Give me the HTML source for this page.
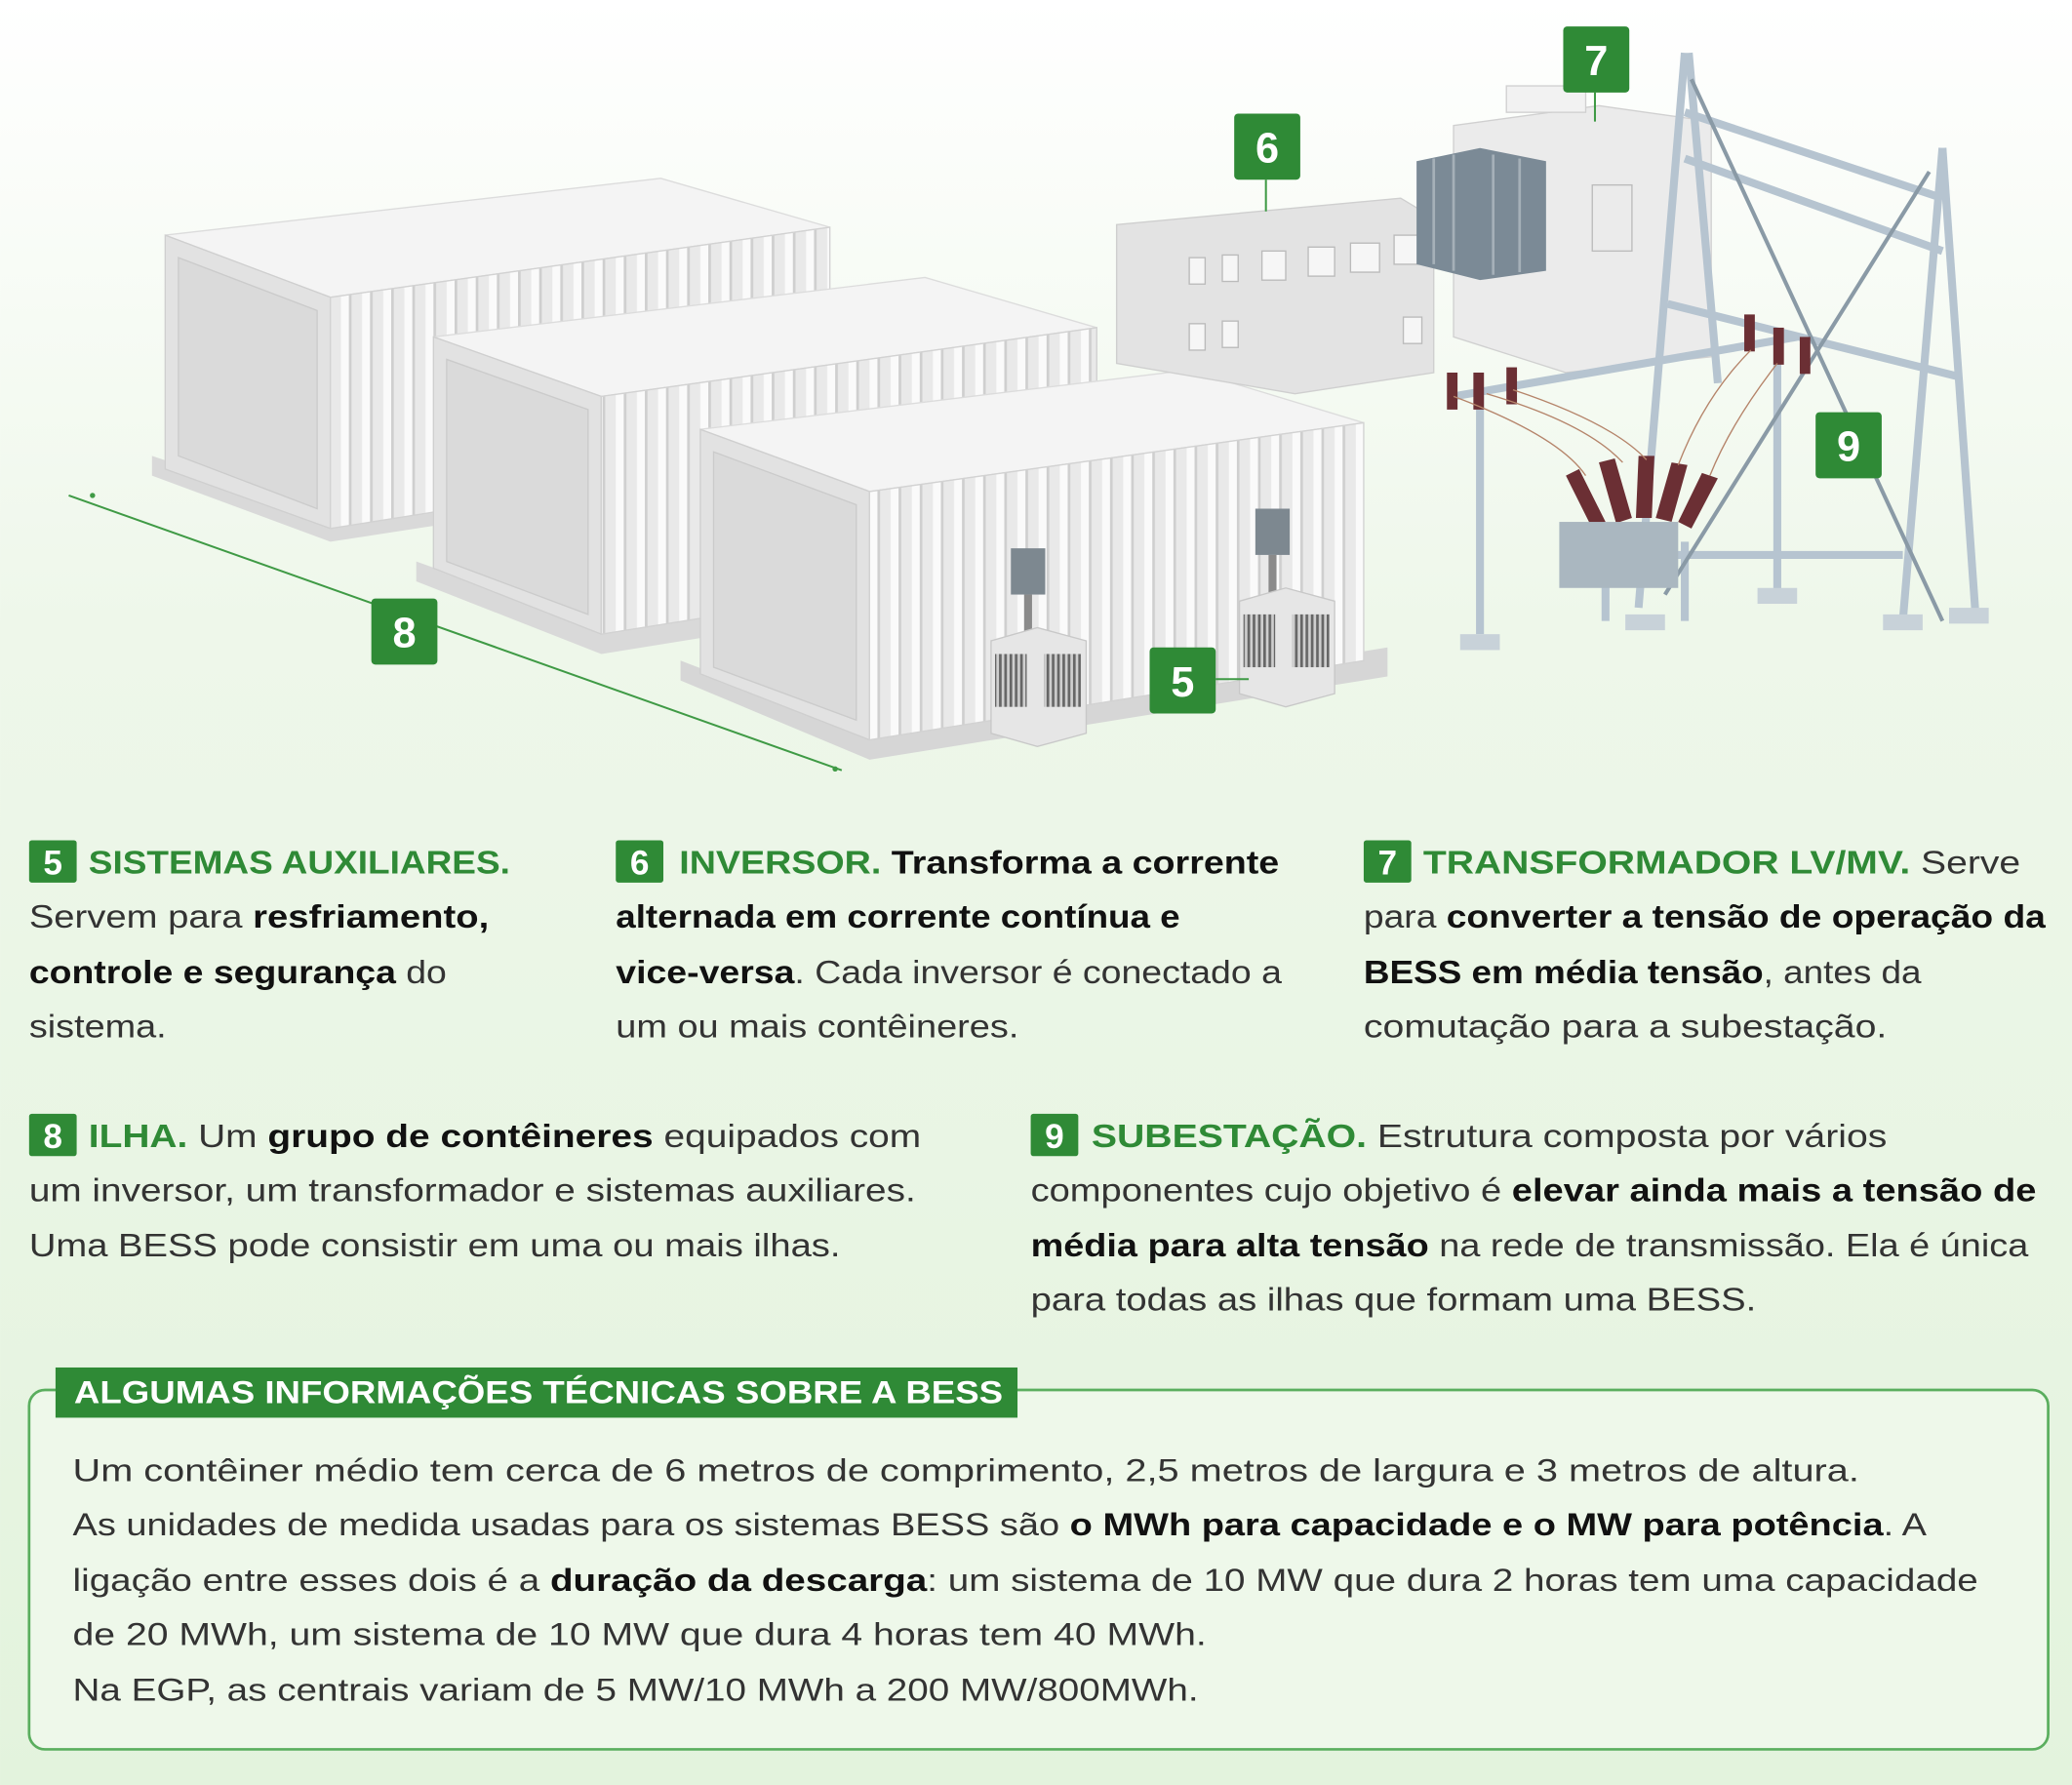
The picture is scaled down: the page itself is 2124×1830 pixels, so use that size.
<!DOCTYPE html>
<html><head><meta charset="utf-8"><style>
html,body{margin:0;padding:0;width:2124px;height:1830px;overflow:hidden}
svg{display:block}
text{font-family:"Liberation Sans",sans-serif}
</style></head><body>
<svg width="2124" height="1830" viewBox="0 0 1568 1351" xmlns="http://www.w3.org/2000/svg">
<defs>
<linearGradient id="bg" x1="0" y1="0" x2="0" y2="1">
<stop offset="0" stop-color="#ffffff"/><stop offset="0.35" stop-color="#eef7ea"/><stop offset="1" stop-color="#e3f3dd"/>
</linearGradient>
<pattern id="rib" width="16" height="10" patternUnits="userSpaceOnUse">
<rect width="16" height="10" fill="#e9e9e9"/><rect x="2" width="6" height="10" fill="#fafafa"/><rect x="8" width="2" height="10" fill="#cfcfcf"/>
</pattern>
<pattern id="grill" width="4" height="6" patternUnits="userSpaceOnUse">
<rect width="4" height="6" fill="#cfcfcf"/><rect width="2" height="6" fill="#666"/>
</pattern>
</defs>
<rect width="1568" height="1351" fill="url(#bg)"/>

<polygon points="115,360 250,410 640,350 640,330 250,390 115,345" fill="#d9d9d9"/>
<polygon points="125,178 500,135 628,172 250,225" fill="#f4f4f4" stroke="#dcdcdc"/>
<polygon points="125,178 250,225 250,400 125,355" fill="#e2e2e2" stroke="#cfcfcf"/>
<polygon points="135,195 240,235 240,385 135,345" fill="#dadada" stroke="#cbcbcb"/>
<polygon points="250,225 628,172 628,340 250,400" fill="url(#rib)" stroke="#d2d2d2"/>
<polygon points="315,440 455,495 845,432 845,410 455,475 315,425" fill="#d9d9d9"/>
<polygon points="328,255 700,210 830,248 455,300" fill="#f4f4f4" stroke="#dcdcdc"/>
<polygon points="328,255 455,300 455,480 328,430" fill="#e2e2e2" stroke="#cfcfcf"/>
<polygon points="338,272 445,310 445,465 338,425" fill="#dadada" stroke="#cbcbcb"/>
<polygon points="455,300 830,248 830,420 455,480" fill="url(#rib)" stroke="#d2d2d2"/>
<polygon points="515,515 658,575 1050,512 1050,490 658,555 515,500" fill="#d6d6d6"/>
<polygon points="530,325 900,280 1032,320 658,372" fill="#f4f4f4" stroke="#dcdcdc"/>
<polygon points="530,325 658,372 658,560 530,510" fill="#e2e2e2" stroke="#cfcfcf"/>
<polygon points="540,342 648,382 648,545 540,505" fill="#dadada" stroke="#cbcbcb"/>
<polygon points="658,372 1032,320 1032,500 658,560" fill="url(#rib)" stroke="#d2d2d2"/>

<g>
<rect x="765" y="415" width="26" height="35" fill="#7d8890"/><rect x="775" y="450" width="6" height="30" fill="#8a8a8a"/>
<polygon points="750,485 785,475 822,485 822,555 785,565 750,555" fill="#e6e6e6" stroke="#c8c8c8"/>
<rect x="753" y="495" width="24" height="40" fill="url(#grill)"/><rect x="790" y="495" width="28" height="40" fill="url(#grill)"/>
<rect x="950" y="385" width="26" height="35" fill="#7d8890"/><rect x="960" y="420" width="6" height="30" fill="#8a8a8a"/>
<polygon points="938,455 973,445 1010,455 1010,525 973,535 938,525" fill="#e6e6e6" stroke="#c8c8c8"/>
<rect x="941" y="465" width="24" height="40" fill="url(#grill)"/><rect x="978" y="465" width="28" height="40" fill="url(#grill)"/>
</g>

<polygon points="845,170 1060,150 1085,165 1085,282 980,298 845,275" fill="#e3e3e3" stroke="#cfcfcf"/>
<g fill="#f6f6f6" stroke="#bbb">
<rect x="900" y="195" width="12" height="20"/><rect x="925" y="193" width="12" height="20"/><rect x="955" y="190" width="18" height="22"/><rect x="990" y="187" width="20" height="22"/><rect x="1022" y="184" width="22" height="22"/><rect x="1055" y="178" width="20" height="22"/>
<rect x="900" y="245" width="12" height="20"/><rect x="925" y="243" width="12" height="20"/><rect x="1062" y="240" width="14" height="20"/>
</g>
<polygon points="1100,95 1210,80 1295,92 1295,270 1185,282 1100,255" fill="#ebebeb" stroke="#d0d0d0"/>
<rect x="1140" y="65" width="60" height="20" fill="#f2f2f2" stroke="#d0d0d0"/>
<polygon points="1072,122 1120,112 1170,122 1170,205 1120,212 1072,200" fill="#7b8a96"/>
<g stroke="#a5b0b8" stroke-width="2"><line x1="1085" y1="120" x2="1085" y2="200"/><line x1="1100" y1="117" x2="1100" y2="205"/><line x1="1130" y1="117" x2="1130" y2="208"/><line x1="1150" y1="120" x2="1150" y2="206"/></g>
<rect x="1205" y="140" width="30" height="50" fill="none" stroke="#bbb"/>

<g stroke="#b6c4d0" stroke-width="6" fill="none" stroke-linejoin="round">
<polyline points="1275,40 1240,460"/><polyline points="1278,40 1300,290"/>
<polyline points="1470,112 1440,470"/><polyline points="1470,112 1495,465"/>
<line x1="1275" y1="85" x2="1470" y2="150"/><line x1="1275" y1="120" x2="1470" y2="190"/>
<line x1="1262" y1="230" x2="1482" y2="285"/>
<line x1="1245" y1="420" x2="1440" y2="420"/>
<line x1="1100" y1="300" x2="1360" y2="255"/><line x1="1120" y1="300" x2="1120" y2="480"/><line x1="1345" y1="260" x2="1345" y2="450"/>
<line x1="1215" y1="420" x2="1215" y2="470"/><line x1="1275" y1="410" x2="1275" y2="470"/>
</g>
<g stroke="#8a9aa6" stroke-width="3"><line x1="1280" y1="60" x2="1470" y2="470"/><line x1="1460" y1="130" x2="1260" y2="450"/></g>
<g fill="#6b2f34">
<rect x="1095" y="282" width="8" height="28"/><rect x="1115" y="282" width="8" height="28"/><rect x="1140" y="278" width="8" height="28"/><rect x="1320" y="238" width="8" height="28"/><rect x="1342" y="248" width="8" height="28"/><rect x="1362" y="255" width="8" height="28"/>
<polygon points="1185,360 1195,355 1215,395 1205,400"/><polygon points="1210,350 1222,347 1235,392 1223,396"/><polygon points="1240,345 1252,345 1250,392 1238,392"/><polygon points="1265,350 1277,352 1265,395 1253,392"/><polygon points="1288,358 1300,362 1280,400 1270,395"/>
</g>
<g stroke="#b5846a" stroke-width="1" fill="none"><path d="M1100,300 Q1180,330 1200,360"/><path d="M1125,298 Q1200,320 1228,350"/><path d="M1145,295 Q1220,320 1246,348"/><path d="M1325,265 Q1290,300 1270,352"/><path d="M1345,275 Q1310,320 1294,360"/></g>
<rect x="1180" y="395" width="90" height="50" fill="#aab7c0"/>
<g fill="#c8d2d9"><rect x="1105" y="480" width="30" height="12"/><rect x="1230" y="465" width="30" height="12"/><rect x="1330" y="445" width="30" height="12"/><rect x="1425" y="465" width="30" height="12"/><rect x="1475" y="460" width="30" height="12"/></g>

<line x1="52" y1="375" x2="637" y2="583" stroke="#3f9a45" stroke-width="1.5"/>
<circle cx="70" cy="375" r="2" fill="#3f9a45"/><circle cx="632" cy="582" r="2" fill="#3f9a45"/>
<line x1="958" y1="136" x2="958" y2="160" stroke="#3f9a45" stroke-width="1.5"/>
<line x1="1207" y1="70" x2="1207" y2="92" stroke="#3f9a45" stroke-width="1.5"/>
<line x1="920" y1="514" x2="945" y2="514" stroke="#3f9a45" stroke-width="1.5"/>

<g font-weight="bold" font-size="32" fill="#fff" text-anchor="middle">
<rect x="1183" y="20" width="50" height="50" rx="3" fill="#2f8a36"/><text x="1208" y="57">7</text>
<rect x="934" y="86" width="50" height="50" rx="3" fill="#2f8a36"/><text x="959" y="123">6</text>
<rect x="1374" y="312" width="50" height="50" rx="3" fill="#2f8a36"/><text x="1399" y="349">9</text>
<rect x="281" y="453" width="50" height="50" rx="3" fill="#2f8a36"/><text x="306" y="490">8</text>
<rect x="870" y="490" width="50" height="50" rx="3" fill="#2f8a36"/><text x="895" y="527">5</text>
</g>

<g fill="#2f8a36">
<rect x="22" y="636" width="36" height="32" rx="2"/><rect x="466" y="636" width="36" height="32" rx="2"/><rect x="1032" y="636" width="36" height="32" rx="2"/>
<rect x="22" y="843" width="36" height="32" rx="2"/><rect x="780" y="843" width="36" height="32" rx="2"/>
</g>
<g fill="#fff" font-weight="bold" font-size="26" text-anchor="middle">
<text x="40" y="662">5</text><text x="484" y="662">6</text><text x="1050" y="662">7</text><text x="40" y="869">8</text><text x="798" y="869">9</text>
</g>

<g font-size="24.5" fill="#333" lengthAdjust="spacingAndGlyphs">
<text x="67" y="661" textLength="319" lengthAdjust="spacingAndGlyphs"><tspan fill="#2f8a36" font-weight="bold">SISTEMAS AUXILIARES.</tspan></text>
<text x="22" y="702" textLength="348" lengthAdjust="spacingAndGlyphs">Servem para <tspan font-weight="bold" fill="#111">resfriamento,</tspan></text>
<text x="22" y="744" textLength="316" lengthAdjust="spacingAndGlyphs"><tspan font-weight="bold" fill="#111">controle e segurança</tspan> do</text>
<text x="22" y="785" textLength="104" lengthAdjust="spacingAndGlyphs">sistema.</text>

<text x="514" y="661" textLength="454" lengthAdjust="spacingAndGlyphs"><tspan fill="#2f8a36" font-weight="bold">INVERSOR.</tspan> <tspan font-weight="bold" fill="#111">Transforma a corrente</tspan></text>
<text x="466" y="702" font-weight="bold" fill="#111" textLength="427" lengthAdjust="spacingAndGlyphs">alternada em corrente contínua e</text>
<text x="466" y="744" textLength="504" lengthAdjust="spacingAndGlyphs"><tspan font-weight="bold" fill="#111">vice-versa</tspan>. Cada inversor é conectado a</text>
<text x="466" y="785" textLength="305" lengthAdjust="spacingAndGlyphs">um ou mais contêineres.</text>

<text x="1077" y="661" textLength="452" lengthAdjust="spacingAndGlyphs"><tspan fill="#2f8a36" font-weight="bold">TRANSFORMADOR LV/MV.</tspan> Serve</text>
<text x="1032" y="702" textLength="516" lengthAdjust="spacingAndGlyphs">para <tspan font-weight="bold" fill="#111">converter a tensão de operação da</tspan></text>
<text x="1032" y="744" textLength="422" lengthAdjust="spacingAndGlyphs"><tspan font-weight="bold" fill="#111">BESS em média tensão</tspan>, antes da</text>
<text x="1032" y="785" textLength="396" lengthAdjust="spacingAndGlyphs">comutação para a subestação.</text>

<text x="67" y="868" textLength="630" lengthAdjust="spacingAndGlyphs"><tspan fill="#2f8a36" font-weight="bold">ILHA.</tspan> Um <tspan font-weight="bold" fill="#111">grupo de contêineres</tspan> equipados com</text>
<text x="22" y="909" textLength="671" lengthAdjust="spacingAndGlyphs">um inversor, um transformador e sistemas auxiliares.</text>
<text x="22" y="951" textLength="614" lengthAdjust="spacingAndGlyphs">Uma BESS pode consistir em uma ou mais ilhas.</text>

<text x="826" y="868" textLength="602" lengthAdjust="spacingAndGlyphs"><tspan fill="#2f8a36" font-weight="bold">SUBESTAÇÃO.</tspan> Estrutura composta por vários</text>
<text x="780" y="909" textLength="761" lengthAdjust="spacingAndGlyphs">componentes cujo objetivo é <tspan font-weight="bold" fill="#111">elevar ainda mais a tensão de</tspan></text>
<text x="780" y="951" textLength="755" lengthAdjust="spacingAndGlyphs"><tspan font-weight="bold" fill="#111">média para alta tensão</tspan> na rede de transmissão. Ela é única</text>
<text x="780" y="992" textLength="549" lengthAdjust="spacingAndGlyphs">para todas as ilhas que formam uma BESS.</text>
</g>

<rect x="22" y="1052" width="1528" height="272" rx="12" fill="#eef8ea" stroke="#5aae5e" stroke-width="2"/>
<rect x="42" y="1035" width="728" height="38" fill="#2f8a36"/>
<text x="56" y="1062" font-size="24" font-weight="bold" fill="#fff" textLength="703" lengthAdjust="spacingAndGlyphs">ALGUMAS INFORMAÇÕES TÉCNICAS SOBRE A BESS</text>
<g font-size="24" fill="#333">
<text x="55" y="1121" textLength="1352" lengthAdjust="spacingAndGlyphs">Um contêiner médio tem cerca de 6 metros de comprimento, 2,5 metros de largura e 3 metros de altura.</text>
<text x="55" y="1162" textLength="1403" lengthAdjust="spacingAndGlyphs">As unidades de medida usadas para os sistemas BESS são <tspan font-weight="bold" fill="#111">o MWh para capacidade e o MW para potência</tspan>. A</text>
<text x="55" y="1204" textLength="1442" lengthAdjust="spacingAndGlyphs">ligação entre esses dois é a <tspan font-weight="bold" fill="#111">duração da descarga</tspan>: um sistema de 10 MW que dura 2 horas tem uma capacidade</text>
<text x="55" y="1245" textLength="858" lengthAdjust="spacingAndGlyphs">de 20 MWh, um sistema de 10 MW que dura 4 horas tem 40 MWh.</text>
<text x="55" y="1287" textLength="852" lengthAdjust="spacingAndGlyphs">Na EGP, as centrais variam de 5 MW/10 MWh a 200 MW/800MWh.</text>
</g>
</svg>
</body></html>
